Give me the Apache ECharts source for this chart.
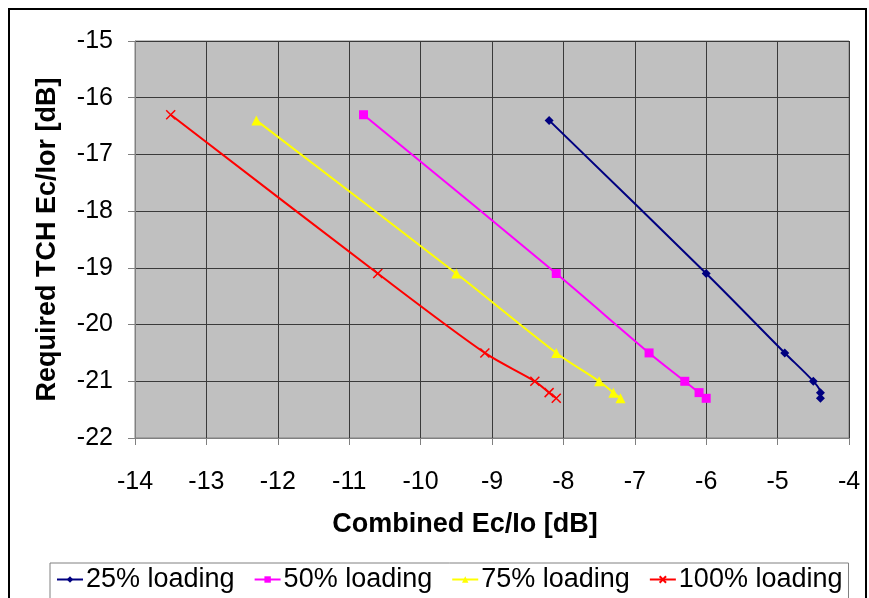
<!DOCTYPE html>
<html>
<head>
<meta charset="utf-8">
<script src="https://cdn.jsdelivr.net/npm/echarts@6/dist/echarts.min.js"></script>
<style>
  html, body { margin: 0; padding: 0; background: #fff; }
  #chart { width: 869px; height: 598px; }
</style>
</head>
<body>
<div id="chart"></div>
<script>
// values
const seriesNames = ['25% loading', '50% loading', '75% loading', '100% loading']
const x25 = [-8.2, -6.0, -4.9, -4.5, -4.4, -4.4]
const y25 = [-16.4, -19.1, -20.5, -21.0, -21.2, -21.3]
const x50 = [-10.8, -8.1, -6.8, -6.3, -6.1, -6.0]
const y50 = [-16.3, -19.1, -20.5, -21.0, -21.2, -21.3]
const x75 = [-12.3, -9.5, -8.1, -7.5, -7.3, -7.2]
const y75 = [-16.4, -19.1, -20.5, -21.0, -21.2, -21.3]
const x100 = [-13.5, -10.6, -9.1, -8.4, -8.2, -8.1]
const y100 = [-16.3, -19.1, -20.5, -21.0, -21.2, -21.3]

const colors = ['#000080', '#ff00ff', '#ffff00', '#ff0000']
const symbols = ['diamond', 'rect', 'triangle', 'path://M0,0L10,10M10,0L0,10']
const symbolSizes = [9, 9, 10, 9]

const zip = (xs, ys) => xs.map((v, i) => [v, ys[i]])
const points = [zip(x25, y25), zip(x50, y50), zip(x75, y75), zip(x100, y100)]

const font = 'Liberation Sans, Arial, sans-serif'

const chart = echarts.init(document.getElementById('chart'))
chart.setOption({
  animation: false,
  textStyle: { fontFamily: font },
  graphic: [{
    type: 'rect',
    shape: { x: 9, y: 9, width: 857, height: 600 },
    style: { fill: 'none', stroke: '#000', lineWidth: 2 },
    silent: true
  }],
  grid: {
    left: 135,
    right: 20,
    top: 41,
    bottom: 160,
    show: true,
    backgroundColor: '#c0c0c0',
    borderColor: '#808080',
    borderWidth: 1
  },
  legend: {
    data: seriesNames,
    left: 50,
    top: 563,
    itemGap: 19,
    itemWidth: 26,
    itemHeight: 8,
    padding: [3, 6, 10, 6],
    borderColor: '#808080',
    borderWidth: 1,
    textStyle: { fontSize: 27, color: '#000', fontFamily: font, padding: [0, 0, 0, -2] }
  },
  xAxis: {
    type: 'value',
    min: -14,
    max: -4,
    interval: 1,
    name: 'Combined Ec/Io [dB]',
    nameLocation: 'middle',
    nameGap: 73,
    nameTextStyle: { fontSize: 27, fontWeight: 'bold', color: '#000', padding: [0, 54, 0, 0] },
    axisLine: { show: true, onZero: false, lineStyle: { color: '#808080' } },
    axisTick: { show: true, inside: false, length: 7, lineStyle: { color: '#808080' } },
    axisLabel: { fontSize: 25, color: '#000', margin: 32 },
    splitLine: { show: true, lineStyle: { color: '#3a3a3a', width: 1 } }
  },
  yAxis: {
    type: 'value',
    min: -22,
    max: -15,
    interval: 1,
    name: 'Required TCH Ec/Ior [dB]',
    nameLocation: 'middle',
    nameGap: 74,
    nameRotate: 90,
    nameTextStyle: { fontSize: 27, fontWeight: 'bold', color: '#000' },
    axisLine: { show: true, onZero: false, lineStyle: { color: '#808080' } },
    axisTick: { show: true, inside: false, length: 7, lineStyle: { color: '#808080' } },
    axisLabel: { fontSize: 25, color: '#000', margin: 22 },
    splitLine: { show: true, lineStyle: { color: '#3a3a3a', width: 1 } }
  },
  series: seriesNames.map((name, i) => ({
    name: name,
    type: 'line',
    data: points[i],
    smooth: 0.3,
    symbol: symbols[i],
    symbolSize: symbolSizes[i],
    lineStyle: { color: colors[i], width: 2 },
    itemStyle: i === 3
      ? { color: colors[i], borderColor: colors[i], borderWidth: 1.5 }
      : { color: colors[i] }
  }))
})
</script>
</body>
</html>
